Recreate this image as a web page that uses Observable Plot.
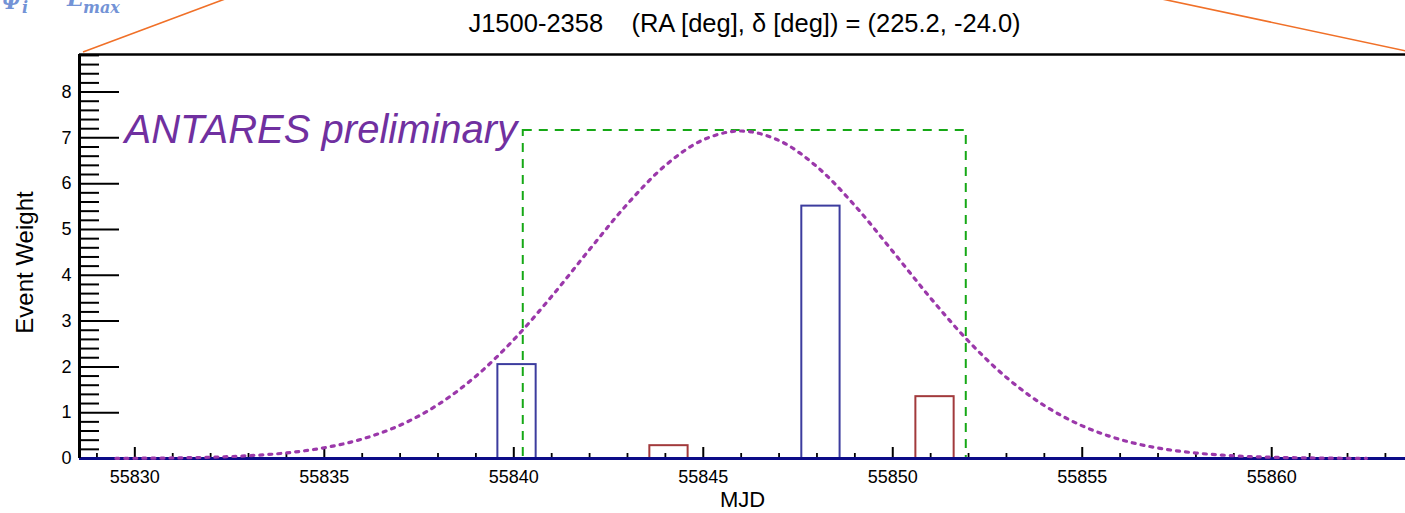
<!DOCTYPE html>
<html><head><meta charset="utf-8">
<script src="https://cdn.jsdelivr.net/npm/d3@7"></script>
<script src="https://cdn.jsdelivr.net/npm/@observablehq/plot@0.6"></script>
<style>
html,body{margin:0;padding:0;background:#fff;}
#wrap{position:relative;width:1405px;height:513px;overflow:hidden;}
#deco{position:absolute;left:0;top:0;pointer-events:none;}
</style></head><body>
<div id="wrap"></div>
<script>
// ---- data ----
const titleText = "J1500-2358\u00a0\u00a0\u00a0\u00a0(RA [deg], \u03b4 [deg]) = (225.2, -24.0)";
const xTickLabels = [55830, 55835, 55840, 55845, 55850, 55855, 55860];
const yTickLabels = [0, 1, 2, 3, 4, 5, 6, 7, 8];
const blueBinStart = [55839.58, 55847.60];
const blueWeight = [2.05, 5.51];
const redBinStart = [55843.59, 55850.61];
const redWeight = [0.28, 1.35];
const binWidth = 1.01;
const windowStart = [55840.25];
const windowEnd = [55851.94];
const windowHeight = [7.16];
const curveMJD = [55829.5, 55830, 55831, 55832, 55833, 55834, 55835, 55836, 55837, 55838, 55839,
  55840, 55841, 55842, 55843, 55844, 55845, 55846, 55847, 55848, 55849, 55850, 55851, 55852,
  55853, 55854, 55855, 55856, 55857, 55858, 55859, 55860, 55861, 55862, 55862.5];
const curveWeight = [0.003, 0.005, 0.012, 0.028, 0.060, 0.122, 0.235, 0.425, 0.727, 1.176, 1.797,
  2.595, 3.540, 4.564, 5.559, 6.398, 6.958, 7.150, 6.942, 6.369, 5.521, 4.522, 3.500, 2.560,
  1.769, 1.155, 0.713, 0.415, 0.229, 0.119, 0.059, 0.027, 0.012, 0.005, 0.003];
const xDomain = [55828.54, 55863.53];
const yDomain = [0, 8.82];

// ---- layout ----
const W = 1405, H = 513, mL = 79, mR = 0, mT = 54, mB = 55;
const fw = W - mL - mR, fh = H - mT - mB;

const blueBars = blueBinStart.map((s, i) => ({x1: s, x2: s + binWidth, w: blueWeight[i]}));
const redBars = redBinStart.map((s, i) => ({x1: s, x2: s + binWidth, w: redWeight[i]}));
const windowBox = windowStart.map((s, i) => ({x1: s, x2: windowEnd[i], h: windowHeight[i]}));
const curve = curveMJD.map((m, i) => ({m, w: curveWeight[i]}));
const yMinor = d3.range(0, 45).map(i => i / 5).filter(v => Math.abs(v - Math.round(v)) > 1e-6);
const xMinor = d3.range(Math.ceil(xDomain[0]), Math.floor(xDomain[1]) + 1).filter(v => v % 5 !== 0);

const font = "'Liberation Sans', Arial, Helvetica, sans-serif";

const chart = Plot.plot({
  width: W, height: H,
  marginLeft: mL, marginRight: mR, marginTop: mT, marginBottom: mB,
  x: {domain: xDomain, axis: null},
  y: {domain: yDomain, axis: null},
  style: {fontFamily: font, background: "white", overflow: "visible"},
  marks: [
    // ticks
    Plot.ruleY(yMinor, {y: d => d, insetRight: fw - 20, stroke: "black", strokeWidth: 2}),
    Plot.ruleY(yTickLabels, {y: d => d, insetRight: fw - 40, stroke: "black", strokeWidth: 2}),
    Plot.ruleX(xMinor, {x: d => d, insetTop: fh - 5, stroke: "black", strokeWidth: 1.8}),
    Plot.ruleX(xTickLabels, {x: d => d, insetTop: fh - 11, stroke: "black", strokeWidth: 2}),
    // histogram bars
    Plot.rect(blueBars, {x1: "x1", x2: "x2", y1: 0, y2: "w", fill: "none", stroke: "#3c3c9e", strokeWidth: 2}),
    Plot.rect(redBars, {x1: "x1", x2: "x2", y1: 0, y2: "w", fill: "none", stroke: "#a23a3c", strokeWidth: 2}),
    // time window
    Plot.rect(windowBox, {x1: "x1", x2: "x2", y1: 0, y2: "h", fill: "none", stroke: "#16a816", strokeWidth: 2, strokeDasharray: "9,7"}),
    // baseline
    Plot.ruleY([0], {stroke: "#0c0c88", strokeWidth: 3}),
    // gaussian
    Plot.line(curve, {x: "m", y: "w", curve: "catmull-rom", stroke: "#9b38aa", strokeWidth: 3.2, strokeDasharray: "3,6"}),
    // frame lines
    Plot.ruleX([xDomain[0]], {stroke: "black", strokeWidth: 3}),
    Plot.ruleY([yDomain[1]], {stroke: "black", strokeWidth: 2.5}),
    // tick labels
    Plot.text(xTickLabels, {x: d => d, text: d => String(d), frameAnchor: "bottom", lineAnchor: "middle", dy: 19, fontSize: 18, fill: "black"}),
    Plot.text(yTickLabels, {y: d => d, text: d => String(d), frameAnchor: "left", lineAnchor: "middle", dx: -8, textAnchor: "end", fontSize: 18, fill: "black"}),
    // axis titles
    Plot.text(["MJD"], {frameAnchor: "bottom", lineAnchor: "middle", dy: 41, fontSize: 22, fill: "black"}),
    Plot.text(["Event Weight"], {frameAnchor: "left", textAnchor: "middle", lineAnchor: "middle", dx: -54, dy: 6, rotate: -90, fontSize: 24, fill: "black"}),
    // title
    Plot.text([titleText], {frameAnchor: "top", lineAnchor: "middle", dy: -31, dx: 2, fontSize: 25.5, fill: "black"}),
    // watermark
    Plot.text(["ANTARES preliminary"], {frameAnchor: "top-left", lineAnchor: "middle", dx: 45, dy: 76, textAnchor: "start", fontSize: 40, fontStyle: "italic", fill: "#7030a0"})
  ]
});
const wrap = document.getElementById("wrap");
wrap.appendChild(chart);

// slide decorations (zoom lines and cropped formula)
const ns = "http://www.w3.org/2000/svg";
const deco = document.createElementNS(ns, "svg");
deco.setAttribute("id", "deco");
deco.setAttribute("width", W);
deco.setAttribute("height", H);
deco.innerHTML = `
  <line x1="83" y1="52" x2="225" y2="-1" stroke="#f07028" stroke-width="1.6"/>
  <line x1="1162" y1="-1" x2="1406" y2="51" stroke="#f07028" stroke-width="1.6"/>
  <g fill="#7393d6" font-family="'DejaVu Serif', serif" font-weight="bold" font-style="italic">
    <text x="21" y="9" text-anchor="end" font-size="22">ΔΨ</text>
    <text x="22" y="13" font-size="16">i</text>
    <text x="67" y="6" font-size="22">E</text>
    <text x="83" y="13" font-size="16">max</text>
  </g>`;
wrap.appendChild(deco);
</script>
</body></html>
